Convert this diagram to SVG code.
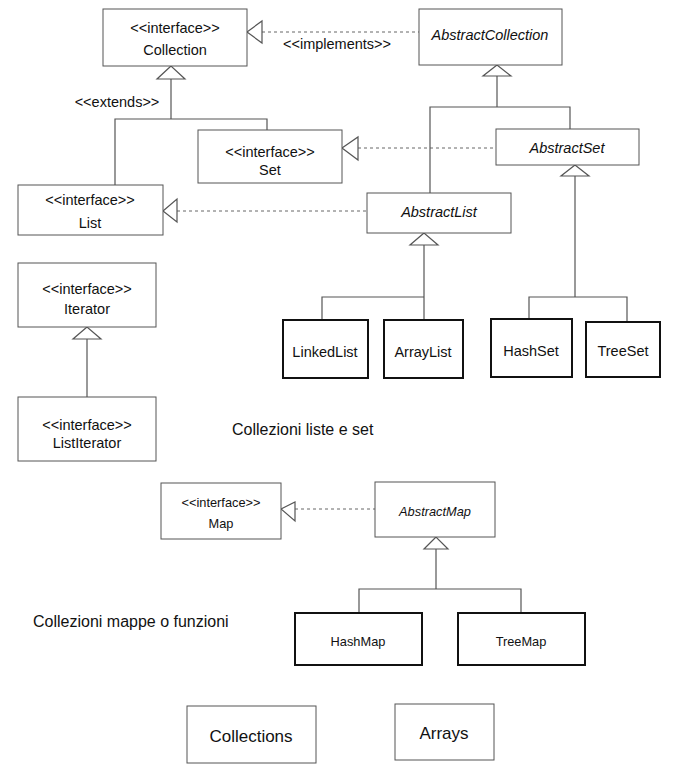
<svg xmlns="http://www.w3.org/2000/svg" width="675" height="770" viewBox="0 0 675 770">
<style>
text{font-family:"Liberation Sans",Arial,sans-serif;fill:#111;text-anchor:middle}
.t{font-size:14.5px}
.s{font-size:12.8px}
.i{font-style:italic}
.box{fill:#fff;stroke:#555;stroke-width:1}
.cls{fill:#fff;stroke:#111;stroke-width:2}
.ln{fill:none;stroke:#555;stroke-width:1.2}
.dash{fill:none;stroke:#666;stroke-width:1;stroke-dasharray:3 3}
.tri{fill:#fff;stroke:#555;stroke-width:1.2}
.lbl{text-anchor:start;font-size:16px}
</style>
<rect width="675" height="770" fill="#fff"/>

<g id="connectors">
  <!-- implements -->
  <line class="dash" x1="262" y1="32" x2="419" y2="32"/>
  <polygon class="tri" points="247,32 262,21 262,43"/>
  <line class="dash" x1="358" y1="148" x2="496" y2="148"/>
  <polygon class="tri" points="342,148 358,137 358,160"/>
  <line class="dash" x1="177" y1="211" x2="367" y2="211"/>
  <polygon class="tri" points="163,211 177,199 177,222"/>
  <line class="dash" x1="295" y1="509" x2="375" y2="509"/>
  <polygon class="tri" points="281,509 295,502 295,521"/>
  <!-- Collection extends -->
  <polyline class="ln" points="171,79 171,119"/>
  <polyline class="ln" points="115,185 115,119 267,119 267,130"/>
  <polygon class="tri" points="171,66 157,79 185,79"/>
  <!-- AbstractCollection -->
  <polyline class="ln" points="497,76 497,107"/>
  <polyline class="ln" points="430,193 430,107 570,107 570,129"/>
  <polygon class="tri" points="497,65 483,76 511,76"/>
  <!-- AbstractList -->
  <polyline class="ln" points="424,245 424,320"/>
  <polyline class="ln" points="322,320 322,297 424,297"/>
  <polygon class="tri" points="424,233 410,245 438,245"/>
  <!-- AbstractSet -->
  <polyline class="ln" points="575,176 575,297"/>
  <polyline class="ln" points="529,319 529,297 627,297 627,322"/>
  <polygon class="tri" points="575,165 561,176 589,176"/>
  <!-- Iterator -->
  <polyline class="ln" points="87,339 87,397"/>
  <polygon class="tri" points="87,327 73,339 101,339"/>
  <!-- AbstractMap -->
  <polyline class="ln" points="436,549 436,589"/>
  <polyline class="ln" points="359,613 359,589 521,589 521,613"/>
  <polygon class="tri" points="436,537 424,549 448,549"/>
  <text class="t" x="337" y="49">&lt;&lt;implements&gt;&gt;</text>
  <text class="t" x="117" y="107">&lt;&lt;extends&gt;&gt;</text>
</g>

<g id="Collection">
  <rect class="box" x="103" y="9" width="144" height="57"/>
  <text class="t" x="175" y="33">&lt;&lt;interface&gt;&gt;</text>
  <text class="t" x="175" y="55">Collection</text>
</g>
<g id="AbstractCollection">
  <rect class="box" x="419" y="9" width="143" height="56"/>
  <text class="t i" x="490" y="40">AbstractCollection</text>
</g>
<g id="Set">
  <rect class="box" x="198" y="130" width="144" height="53"/>
  <text class="t" x="270" y="157">&lt;&lt;interface&gt;&gt;</text>
  <text class="t" x="270" y="175">Set</text>
</g>
<g id="AbstractSet">
  <rect class="box" x="496" y="129" width="143" height="36"/>
  <text class="t i" x="567" y="153">AbstractSet</text>
</g>
<g id="List">
  <rect class="box" x="18" y="185" width="145" height="50"/>
  <text class="t" x="90" y="205">&lt;&lt;interface&gt;&gt;</text>
  <text class="t" x="90" y="228">List</text>
</g>
<g id="AbstractList">
  <rect class="box" x="367" y="193" width="144" height="40"/>
  <text class="t i" x="439" y="217">AbstractList</text>
</g>
<g id="LinkedList">
  <rect class="cls" x="283" y="320" width="85" height="58"/>
  <text class="t" x="325" y="357">LinkedList</text>
</g>
<g id="ArrayList">
  <rect class="cls" x="384" y="320" width="79" height="58"/>
  <text class="t" x="423" y="357">ArrayList</text>
</g>
<g id="HashSet">
  <rect class="cls" x="491" y="319" width="81" height="58"/>
  <text class="t" x="531" y="356">HashSet</text>
</g>
<g id="TreeSet">
  <rect class="cls" x="586" y="322" width="74" height="55"/>
  <text class="t" x="623" y="356">TreeSet</text>
</g>
<g id="Iterator">
  <rect class="box" x="18" y="263" width="138" height="64"/>
  <text class="t" x="87" y="294">&lt;&lt;interface&gt;&gt;</text>
  <text class="t" x="87" y="314">Iterator</text>
</g>
<g id="ListIterator">
  <rect class="box" x="18" y="397" width="138" height="64"/>
  <text class="t" x="87" y="430">&lt;&lt;interface&gt;&gt;</text>
  <text class="t" x="87" y="448">ListIterator</text>
</g>
<text class="lbl" x="232" y="435">Collezioni liste e set</text>

<g id="Map">
  <rect class="box" x="161" y="483" width="120" height="56"/>
  <text class="s" x="221" y="507">&lt;&lt;interface&gt;&gt;</text>
  <text class="s" x="221" y="528">Map</text>
</g>
<g id="AbstractMap">
  <rect class="box" x="375" y="482" width="120" height="55"/>
  <text class="s i" x="435" y="516">AbstractMap</text>
</g>
<g id="HashMap">
  <rect class="cls" x="295" y="613" width="127" height="52"/>
  <text class="s" x="358" y="646">HashMap</text>
</g>
<g id="TreeMap">
  <rect class="cls" x="458" y="613" width="127" height="52"/>
  <text class="s" x="521" y="646">TreeMap</text>
</g>
<text class="lbl" x="33" y="627">Collezioni mappe o funzioni</text>

<g id="Collections">
  <rect class="box" x="187" y="706" width="129" height="57"/>
  <text x="251" y="742" style="font-size:17px">Collections</text>
</g>
<g id="Arrays">
  <rect class="box" x="395" y="704" width="99" height="56"/>
  <text x="444" y="739" style="font-size:17px">Arrays</text>
</g>
</svg>
